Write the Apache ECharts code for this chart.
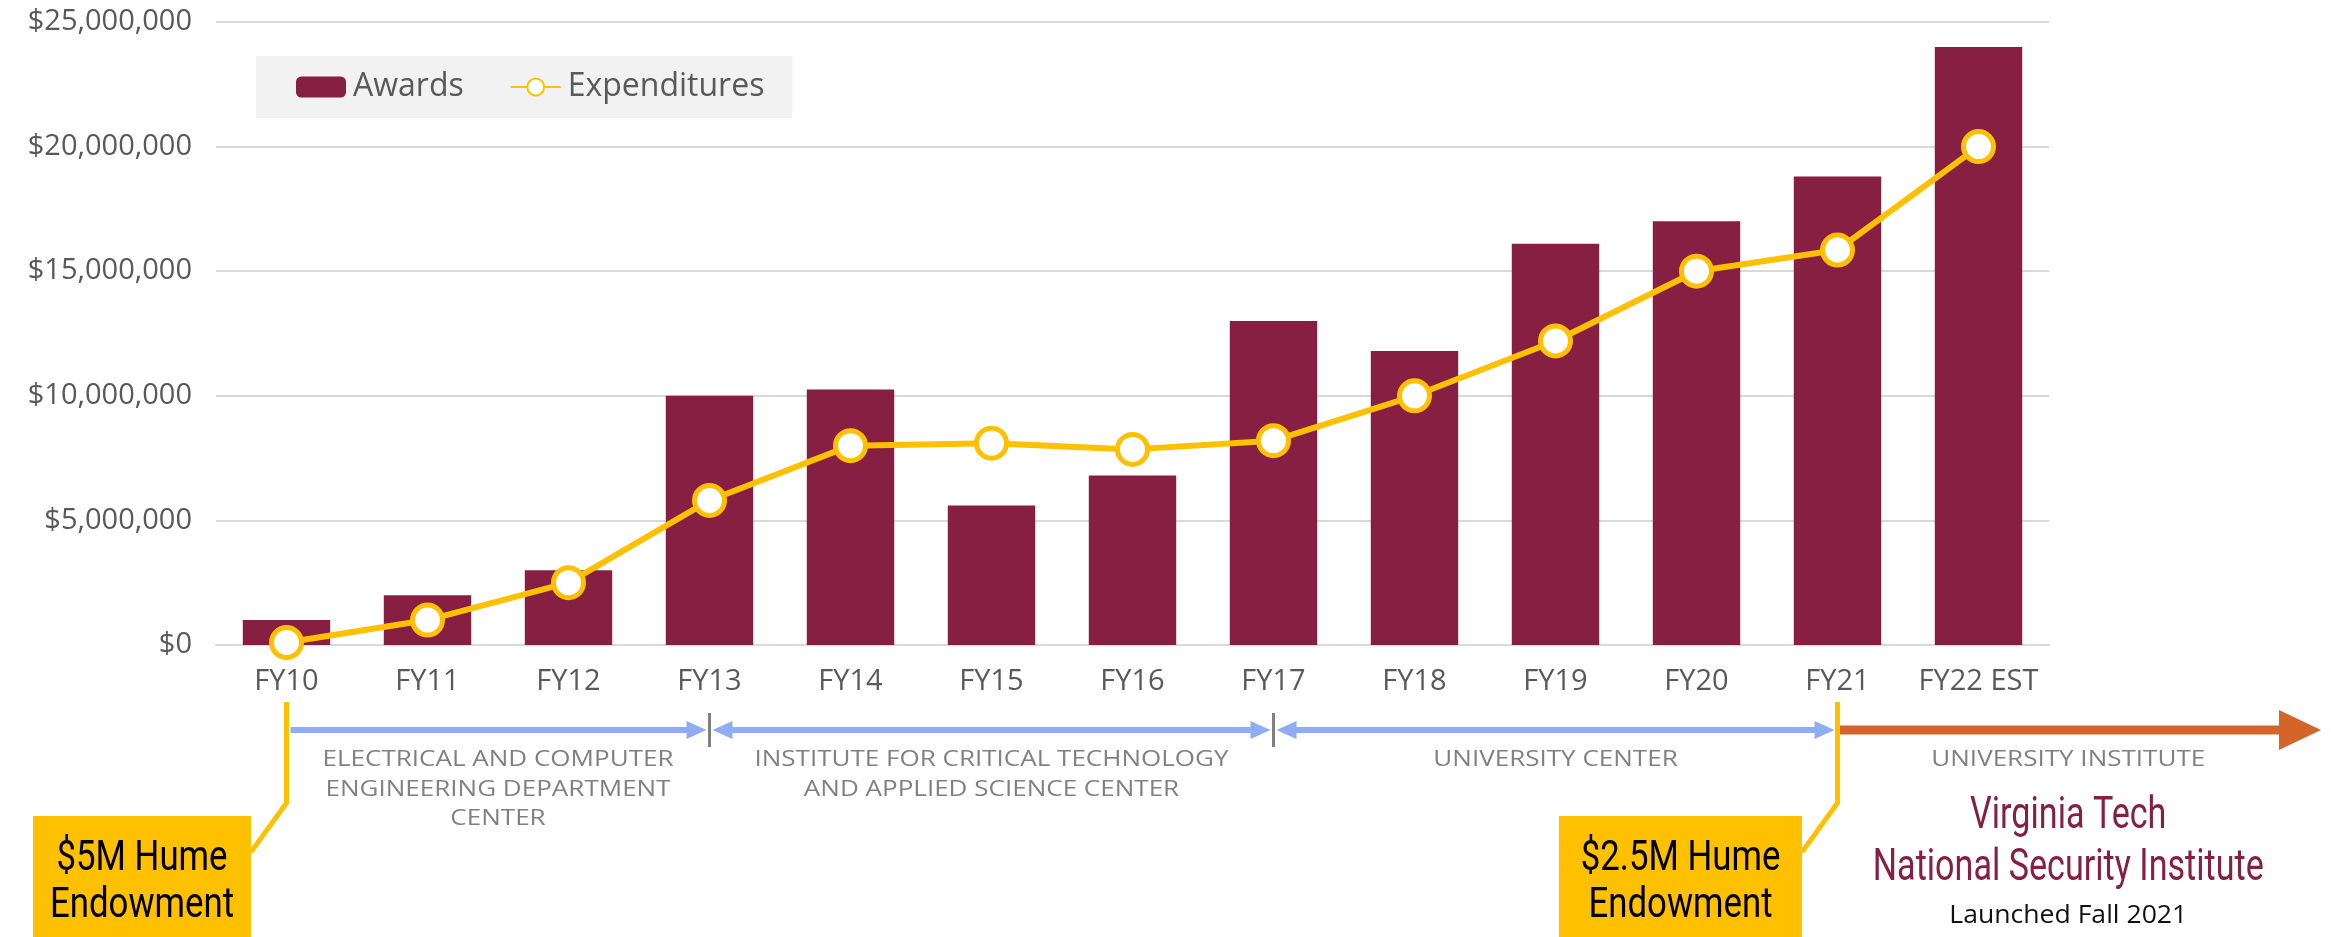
<!DOCTYPE html>
<html><head><meta charset="utf-8">
<script src="https://cdn.jsdelivr.net/npm/echarts@6/dist/echarts.min.js"></script>
<style>html,body{margin:0;padding:0;background:#fff}#c{width:2331px;height:937px}</style>
</head><body><div id="c"></div>
<script>
const categories = ['FY10','FY11','FY12','FY13','FY14','FY15','FY16','FY17','FY18','FY19','FY20','FY21','FY22 EST'];
const awards = [1000000,2000000,3000000,10000000,10250000,5600000,6800000,13000000,11800000,16100000,17000000,18800000,24000000];
const expenditures = [100000,1000000,2500000,5800000,8000000,8100000,7850000,8200000,10000000,12200000,15000000,15850000,20000000];
const seriesNames = ['Awards','Expenditures'];
const phaseLabels = ['ELECTRICAL AND COMPUTER\nENGINEERING DEPARTMENT\nCENTER','INSTITUTE FOR CRITICAL TECHNOLOGY\nAND APPLIED SCIENCE CENTER','UNIVERSITY CENTER'];
const phaseStarts = ['FY10','FY13','FY17'];
const phaseEnds = ['FY13','FY17','FY21'];
const instituteLabel = 'UNIVERSITY INSTITUTE';
const instituteStart = 'FY21';
const instituteLines = ['Virginia Tech','National Security Institute'];
const launchText = 'Launched Fall 2021';
const endowmentLabels = [['$5M Hume','Endowment'],['$2.5M Hume','Endowment']];
const endowmentYears = ['FY10','FY21'];

const FONT = "'Open Sans', Lato, sans-serif";
const COND = "Roboto, sans-serif";
const MAROON = '#861F41', GOLD = '#FFC000', BLUE = '#8FADF2', ORANGE = '#D4652A';

const mctx = document.createElement('canvas').getContext('2d');
function tw(text, size, fam){ mctx.font = size + 'px ' + fam; return mctx.measureText(text).width; }

const chart = echarts.init(document.getElementById('c'), null, {renderer:'canvas'});
chart.setOption({
  animation:false,
  grid:{left:216,right:282,top:22,bottom:292,containLabel:false},
  legend:{
    left:256, top:56, backgroundColor:'#f2f2f2', padding:[15,28,15,40],
    itemWidth:50, itemHeight:21, itemGap:46,
    textStyle:{fontFamily:FONT,fontSize:32,color:'#595959',padding:[0,0,0,2]},
    data:seriesNames
  },
  xAxis:{type:'category',data:categories,
    axisLine:{lineStyle:{color:'#d9d9d9',width:2}},axisTick:{show:false},
    axisLabel:{fontFamily:FONT,fontSize:29,color:'#595959',margin:22,interval:0}},
  yAxis:{type:'value',min:0,max:25000000,interval:5000000,
    axisLine:{show:false},axisTick:{show:false},
    splitLine:{lineStyle:{color:'#d9d9d9',width:2}},
    axisLabel:{fontFamily:FONT,fontSize:29,color:'#595959',margin:24,
      formatter:v=>'$'+v.toLocaleString('en-US')}},
  series:[
    {name:seriesNames[0],type:'bar',data:awards,barCategoryGap:'38%',itemStyle:{color:MAROON}},
    {name:seriesNames[1],type:'line',data:expenditures,symbol:'circle',symbolSize:30,
      color:GOLD,lineStyle:{color:GOLD,width:6},
      itemStyle:{color:'#fff',borderColor:GOLD,borderWidth:5}}
  ]
});

function cx(cat){ return chart.convertToPixel({xAxisIndex:0}, cat); }
const g = [];
const ARROW_Y = 730;
function head(x, dir, len, half, color){
  g.push({type:'polygon',shape:{points:[[x,ARROW_Y],[x-dir*len,ARROW_Y-half],[x-dir*len,ARROW_Y+half]]},style:{fill:color},z:5});
}
function stext(text, x, y, size, fam, color, sx, va){
  g.push({type:'text',x:x,y:y,scaleX:sx,scaleY:1,
    style:{text:text,x:0,y:0,align:'center',verticalAlign:va||'middle',fontFamily:fam,fontSize:size,fill:color},z:8});
}
const PH = 22;
const phScale = 351 / tw('ELECTRICAL AND COMPUTER', PH, FONT);
phaseLabels.forEach((lab,i)=>{
  const x0 = cx(phaseStarts[i]), x1 = cx(phaseEnds[i]);
  const s = i===0 ? x0+4 : x0+3;
  const e = x1-3;
  g.push({type:'line',shape:{x1:s+(i===0?0:16),y1:ARROW_Y,x2:e-16,y2:ARROW_Y},style:{stroke:BLUE,lineWidth:6},z:4});
  head(e,1,20,9,BLUE);
  if(i>0) head(s,-1,20,9,BLUE);
  lab.split('\n').forEach((ln,k)=> stext(ln,(x0+x1)/2,760+k*29.5,PH,FONT,'#808080',phScale));
});
[phaseStarts[1],phaseStarts[2]].forEach(c=>{
  const x = cx(c);
  g.push({type:'line',shape:{x1:x,y1:713,x2:x,y2:747},style:{stroke:'#808080',lineWidth:3},z:6});
});
const ix = cx(instituteStart);
g.push({type:'line',shape:{x1:ix,y1:ARROW_Y,x2:2285,y2:ARROW_Y},style:{stroke:ORANGE,lineWidth:9},z:4});
head(2321,1,42,20,ORANGE);
const ic = (ix+2321)/2 - 11;
stext(instituteLabel, ic, 760, PH, FONT, '#808080', phScale);
const NS = 44;
const nScale = 391 / tw(instituteLines[1], NS, COND);
stext(instituteLines[0], ic, 817, NS, COND, MAROON, nScale);
stext(instituteLines[1], ic, 869, NS, COND, MAROON, nScale);
const lScale = 238 / tw(launchText, 25, FONT);
stext(launchText, ic, 916, 25, FONT, '#111', lScale);
const boxes = [[33,251],[1559,1802]];
const ES = 42;
const eScale = 184 / tw('Endowment', ES, COND);
endowmentLabels.forEach((lines,i)=>{
  const x = cx(endowmentYears[i]);
  const b = boxes[i];
  g.push({type:'polyline',shape:{points:[[x,702],[x,803],[b[1],852]]},style:{stroke:GOLD,lineWidth:5,fill:null},z:7});
  g.push({type:'rect',shape:{x:b[0],y:816,width:b[1]-b[0],height:130},style:{fill:GOLD},z:7});
  lines.forEach((ln,k)=> stext(ln,(b[0]+b[1])/2,859+k*47,ES,COND,'#000',eScale));
});
chart.setOption({graphic:g});
</script></body></html>
